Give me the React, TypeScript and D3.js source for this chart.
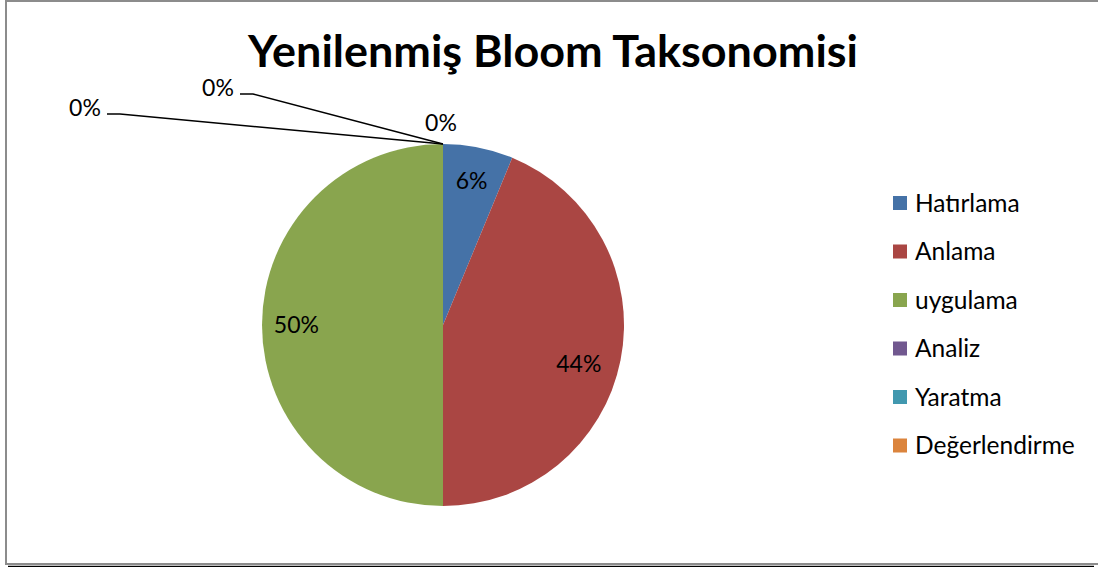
import * as React from 'react';
import * as d3 from 'd3';

const categories = ['Hatırlama', 'Anlama', 'uygulama', 'Analiz', 'Yaratma', 'Değerlendirme'];
const counts = [1, 7, 8, 0, 0, 0];
const colors = ['#4572A7', '#AA4643', '#89A54E', '#71588F', '#4198AF', '#DB843D'];
const title = 'Yenilenmiş Bloom Taksonomisi';

// manual label spots for the zero slices (Excel pulls them out with leader lines)
const zeroLabels = [
  { x: 441, y: 123, leader: false },
  { x: 218, y: 88, leader: true },
  { x: 85, y: 108, leader: true },
];

class PieChart extends React.Component {
  private element;

  componentDidMount() {
    this.init();
  }

  init() {
    const width = 1098;
    const height = 567;
    const cx = 443;
    const cy = 325;
    const radius = 181;
    const font = 'Lato, "Open Sans", sans-serif';

    const svg = d3.select(this.element)
      .attr('width', width)
      .attr('height', height)
      .style('position', 'absolute')
      .style('left', 0)
      .style('top', 0)
      .style('font-family', font);

    svg.append('rect')
      .attr('x', 0).attr('y', 0).attr('width', width).attr('height', height)
      .attr('fill', '#fff');

    // chart frame
    svg.append('rect')
      .attr('x', 6).attr('y', 1).attr('width', width + 10).attr('height', 563)
      .attr('fill', 'none').attr('stroke', '#8c8c8c').attr('stroke-width', 2);
    svg.append('line')
      .attr('x1', 8).attr('x2', 1094).attr('y1', 566.5).attr('y2', 566.5)
      .attr('stroke', '#000').attr('stroke-width', 1.5);

    svg.append('text')
      .attr('x', 553)
      .attr('y', 67)
      .attr('text-anchor', 'middle')
      .attr('font-size', '43px')
      .attr('font-weight', 'bold')
      .attr('textLength', 610)
      .attr('lengthAdjust', 'spacingAndGlyphs')
      .text(title);

    const total = d3.sum(counts);
    const pie = d3.pie<number>().sort(null).value(d => d);
    const arcs = pie(counts);
    const arc = d3.arc<d3.PieArcDatum<number>>().innerRadius(0).outerRadius(radius);
    const labelArc = d3.arc<d3.PieArcDatum<number>>().innerRadius(radius * 0.81).outerRadius(radius * 0.81);

    const g = svg.append('g').attr('transform', `translate(${cx}, ${cy})`);

    g.selectAll('path')
      .data(arcs.filter(a => a.value > 0))
      .enter()
      .append('path')
      .attr('d', arc)
      .attr('fill', d => colors[d.index]);

    const pct = (v: number) => `${Math.round((v / total) * 100)}%`;

    g.selectAll('text.lbl')
      .data(arcs.filter(a => a.value > 0))
      .enter()
      .append('text')
      .attr('class', 'lbl')
      .attr('transform', d => {
        const [x, y] = labelArc.centroid(d);
        // Excel nudges the big right-hand label a bit inward
        return d.index === 1 ? `translate(${x - 8}, ${y + 10})` : `translate(${x}, ${y})`;
      })
      .attr('text-anchor', 'middle')
      .attr('dy', '0.35em')
      .attr('font-size', '23px')
      .text(d => pct(d.value));

    // zero slices: labels + leader lines to the tip on the top of the pie
    const zeros = arcs.filter(a => a.value === 0);
    zeros.forEach((d, i) => {
      const pos = zeroLabels[i];
      const tip = [cx + radius * Math.sin(d.startAngle), cy - radius * Math.cos(d.startAngle)];
      if (pos.leader) {
        const lx = pos.x + 22;
        const ly = pos.y + 6;
        svg.append('path')
          .attr('d', d3.line()([[lx, ly], [lx + 13, ly], tip as [number, number]]))
          .attr('fill', 'none')
          .attr('stroke', '#000')
          .attr('stroke-width', 1.5);
      }
      svg.append('text')
        .attr('x', pos.x)
        .attr('y', pos.y)
        .attr('text-anchor', 'middle')
        .attr('dy', '0.35em')
        .attr('font-size', '23px')
        .text(pct(d.value));
    });

    const legend = svg.append('g').attr('transform', 'translate(893, 203)');
    const item = legend.selectAll('g')
      .data(categories)
      .enter()
      .append('g')
      .attr('transform', (d, i) => `translate(0, ${i * 48.5})`);
    item.append('rect')
      .attr('x', 0).attr('y', -7).attr('width', 14).attr('height', 14)
      .attr('fill', (d, i) => colors[i]);
    item.append('text')
      .attr('x', 22)
      .attr('dy', '0.36em')
      .attr('font-size', '24.5px')
      .text(d => d);
  }

  render() {
    return <svg ref={(ref) => (this.element = ref)} />;
  }
}

export default function App() {
  return <PieChart />;
}
